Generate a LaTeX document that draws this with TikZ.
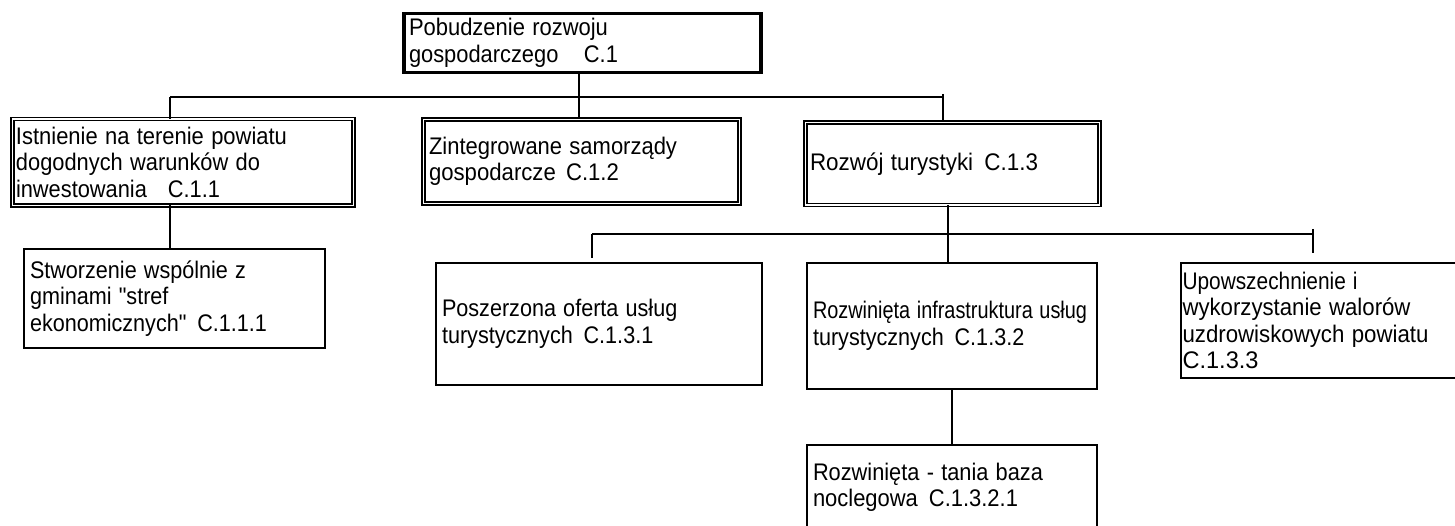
\documentclass[tikz,border=0pt]{standalone}
\usepackage{fontspec}
\setmainfont{Liberation Sans}
\newcommand\mygap[1]{\hspace*{#1pt}}
\newcommand\myln[2][]{\if\relax\detokenize{#1}\relax\scalebox{0.9}[1]{#2}\else\resizebox{#1pt}{\height}{#2}\fi}
\tikzset{
  boxbase/.style={anchor=north west, inner ysep=0pt, outer sep=0pt, align=left,
    font=\fontsize{24}{26.5}\selectfont, text=black,
    execute at begin node={\setlength{\baselineskip}{26.5pt}}},
  thickbox/.style={boxbase, draw, line width=3.8pt},
  dblbox/.style={boxbase, draw, double, double distance=1.8pt, line width=1.2pt},
  sglbox/.style={boxbase, draw, line width=1.3pt},
  conn/.style={line width=1.3pt}
}
\newcommand\bx[8]{% style, name, x1, y1, x2, y2, inset, text
  \node[#1, minimum height={#6-#4}, text width={#5-#3-2*#7}, inner xsep=#7pt] (#2) at (#3,#4) {#8};}
\begin{document}
\begin{tikzpicture}[x=1pt,y=-1pt]
\useasboundingbox (0,0) rectangle (1455,526);
\clip (0,0) rectangle (1455,526);
\fill[white] (0,0) rectangle (1455,526);
% boxes
\bx{thickbox}{top}{404}{13.5}{761}{72.5}{5}{\myln[199]{Pobudzenie rozwoju}\\\myln[209]{gospodarczego\mygap{28}C.1}}
\bx{dblbox}{c11}{12.5}{119}{353.5}{205.5}{3.5}{\myln[271]{Istnienie na terenie powiatu}\\\myln[244]{dogodnych warunków do}\\\myln[204]{inwestowania\mygap{23}C.1.1}}
\bx{dblbox}{c12}{423.5}{119.5}{739.5}{203.5}{5.5}{\myln[248]{Zintegrowane samorządy}\\\myln[190]{gospodarcze\mygap{11}C.1.2}}
\bx{dblbox}{c13}{805.5}{122.5}{1099.5}{205}{4.5}{\myln[228]{Rozwój turystyki\mygap{12}C.1.3}}
\bx{sglbox}{c111}{24}{249}{325}{348}{6}{\myln[216]{Stworzenie wspólnie z}\\\myln{gminami \textquotedbl stref}\\\myln{ekonomicznych\textquotedbl\mygap{12}C.1.1.1}}
\bx{sglbox}{c131}{436}{263}{762}{385}{6}{\myln{Poszerzona oferta usług}\\\myln{turystycznych\mygap{12}C.1.3.1}}
\bx{sglbox}{c132}{807}{263}{1097}{389}{6}{\myln[274]{Rozwinięta infrastruktura usług}\\\myln{turystycznych\mygap{12}C.1.3.2}}
\bx{sglbox}{c133}{1181}{263}{1480}{378}{1.5}{\myln[175]{Upowszechnienie i}\\\myln[228]{wykorzystanie walorów}\\\myln[246]{uzdrowiskowych powiatu}\\\myln[76]{C.1.3.3}}
\bx{sglbox}{c1321}{807}{445}{1097}{530}{6}{\myln[230]{Rozwinięta - tania baza}\\\myln[205]{noclegowa\mygap{12}C.1.3.2.1}}
% connector coordinates
\coordinate (b1L) at (170,97);
\coordinate (b1M) at (579,97);
\coordinate (b1R) at (943,97);
\coordinate (b1Rt) at (943,94);
\coordinate (b2L) at (592,234);
\coordinate (b2M) at (948,234);
\coordinate (b2R) at (1313,234);
\coordinate (b2Rt) at (1313,229);
\coordinate (b2Re) at (1313,253);
\coordinate (b2Le) at (592,258);
\coordinate (v1321) at (952,0);
% level 1
\draw[conn] (b1L) -- (b1R);
\draw[conn] (b1M |- top.south) -- (b1M |- c12.north);
\draw[conn] (b1L) -- (b1L |- c11.north);
\draw[conn] (b1Rt) -- (b1R |- c13.north);
\draw[conn] (b1L |- c11.south) -- (b1L |- c111.north);
% level 2
\draw[conn] (b2L) -- (b2R);
\draw[conn] (b2M |- c13.south) -- (b2M |- c132.north);
\draw[conn] (b2L) -- (b2Le);
\draw[conn] (b2Rt) -- (b2Re);
\draw[conn] (v1321 |- c132.south) -- (v1321 |- c1321.north);
\end{tikzpicture}
\end{document}
